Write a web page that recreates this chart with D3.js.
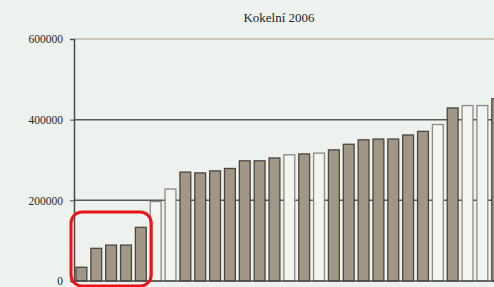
<!DOCTYPE html>
<html>
<head>
<meta charset="utf-8">
<script src="https://cdn.jsdelivr.net/npm/d3@7"></script>
<style>
  body { margin: 0; background: #eef2ee; }
  svg { display: block; }
  text { font-family: "Liberation Serif", serif; }
</style>
</head>
<body>
<div id="chart"></div>
<script>
// values, sorted as shown
const categories = d3.range(1, 30).map(String);
const values = [34000, 81000, 89000, 89000, 133000, 197000, 228000, 270000, 268000,
  273000, 279000, 298000, 298000, 305000, 313000, 315000, 317000, 325000, 339000,
  350000, 352000, 352000, 362000, 371000, 388000, 429000, 435000, 435000, 452000];
// true = hollow (white) bar
const hollow = [false, false, false, false, false, true, true, false, false,
  false, false, false, false, false, true, false, true, false, false,
  false, false, false, false, false, true, false, true, true, false];
const yTicks = [0, 200000, 400000, 600000];
const title = "Kokelní 2006";

const width = 494;
const height = 287;
const margin = { top: 39, left: 74, bottom: 6 };

const svg = d3.select("#chart")
  .append("svg")
  .attr("width", width)
  .attr("height", height);

// chart is cut off on the right, so the band range runs past the edge
const x = d3.scaleBand()
  .domain(categories)
  .range([margin.left, margin.left + 14.85 * categories.length])
  .paddingInner(0.27)
  .paddingOuter(0.135);

const y = d3.scaleLinear()
  .domain([0, 600000])
  .range([height - margin.bottom, margin.top]);

// gridlines
svg.append("g")
  .selectAll("line")
  .data(yTicks.filter(d => d > 0))
  .join("line")
  .attr("x1", margin.left)
  .attr("x2", width)
  .attr("y1", d => y(d))
  .attr("y2", d => y(d))
  .attr("stroke", d => d === 600000 ? "#b9b9b0" : "#5a5a5a")
  .attr("stroke-width", 1.5);

// bars
svg.append("g")
  .selectAll("rect")
  .data(values)
  .join("rect")
  .attr("x", (d, i) => x(categories[i]))
  .attr("y", d => y(d))
  .attr("width", x.bandwidth())
  .attr("height", d => y(0) - y(d))
  .attr("fill", (d, i) => hollow[i] ? "#f3f5f1" : "#a29686")
  .attr("stroke", (d, i) => hollow[i] ? "#8a8a88" : "#4a4540")
  .attr("stroke-width", 1.3);

// y axis
const yAxis = svg.append("g")
  .attr("transform", `translate(${margin.left},0)`)
  .call(d3.axisLeft(y).tickValues(yTicks).tickSize(4).tickPadding(7).tickFormat(d3.format("d")));
yAxis.select(".domain").attr("stroke", "#4a4a4a").attr("stroke-width", 1.5);
yAxis.selectAll(".tick line").attr("stroke", "#4a4a4a");
yAxis.selectAll(".tick text")
  .style("font-family", "'Liberation Serif', serif")
  .attr("font-size", 11.5)
  .attr("fill", "#222");

// baseline
svg.append("line")
  .attr("x1", margin.left)
  .attr("x2", width)
  .attr("y1", y(0))
  .attr("y2", y(0))
  .attr("stroke", "#4a4a4a")
  .attr("stroke-width", 1.5);

// title
svg.append("text")
  .attr("x", 279)
  .attr("y", 22)
  .attr("text-anchor", "middle")
  .attr("font-size", 13)
  .attr("fill", "#222")
  .text(title);

// red highlight round the first five bars
const first = x(categories[0]);
const fifth = x(categories[4]) + x.bandwidth();
svg.append("rect")
  .attr("x", first - 5)
  .attr("y", y(0) - 69)
  .attr("width", fifth - first + 10)
  .attr("height", 74)
  .attr("rx", 11)
  .attr("fill", "none")
  .attr("stroke", "#e8141a")
  .attr("stroke-width", 3);
</script>
</body>
</html>
